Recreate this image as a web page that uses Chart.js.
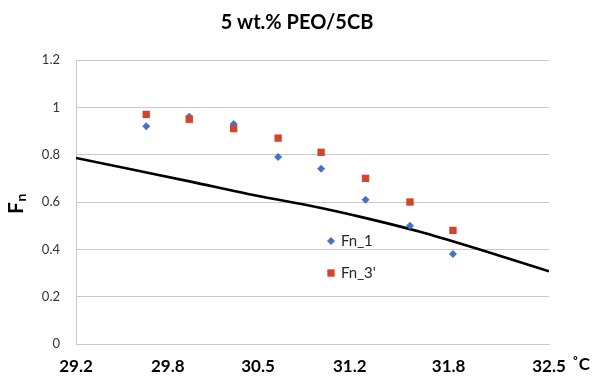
<!DOCTYPE html>
<html>
<head>
<meta charset="utf-8">
<script src="https://cdn.jsdelivr.net/npm/chart.js@4.4.1/dist/chart.umd.min.js"></script>
<style>
  html, body { margin: 0; padding: 0; background: #ffffff; }
  #wrap { width: 595px; height: 376px; position: relative; }
</style>
</head>
<body>
<div id="wrap"><canvas id="c" width="595" height="376"></canvas></div>
<script>
// ---- data ----
const chartTitle = '5 wt.% PEO/5CB';
const yAxisTitleMain = 'F';
const yAxisTitleSub = 'n';
const xUnitLabel = '˚C';

const xTickValues = [29.2, 29.84, 30.47, 31.11, 31.8, 32.5];
const xTickLabels = ['29.2', '29.8', '30.5', '31.2', '31.8', '32.5'];

const tempPoints = [29.69, 29.99, 30.30, 30.61, 30.91, 31.22, 31.53, 31.83];
const fn1Values  = [0.92, 0.96, 0.93, 0.79, 0.74, 0.61, 0.50, 0.38];
const fn3Values  = [0.97, 0.95, 0.91, 0.87, 0.81, 0.70, 0.60, 0.48];

const curveTemps  = [29.2, 29.6, 30.0, 30.4, 30.8, 31.2, 31.6, 32.0, 32.5];
const curveValues = [0.786, 0.736, 0.686, 0.634, 0.588, 0.535, 0.474, 0.402, 0.307];

const seriesNames = ['Fn_1', "Fn_3'"];

// ---- build chart ----
const FONT = 'Lato, "Liberation Sans", sans-serif';
const BLUE = '#4472C4';
const RED = '#D5432A';
const GRID = '#C9C9C9';

const toXY = (xs, ys) => xs.map((x, i) => ({ x: x, y: ys[i] }));

const overlayPlugin = {
  id: 'overlay',
  afterDraw(chart) {
    const ctx = chart.ctx;
    ctx.save();
    // title
    ctx.fillStyle = '#000000';
    ctx.font = 'bold 20px ' + FONT;
    ctx.textAlign = 'center';
    ctx.textBaseline = 'middle';
    ctx.fillText(chartTitle, 297, 23);

    // unit label next to x axis
    ctx.font = 'bold 17px ' + FONT;
    ctx.textAlign = 'left';
    ctx.textBaseline = 'top';
    ctx.fillText(xUnitLabel, 572, 356);

    // rotated y axis title with subscript
    ctx.translate(23, 214);
    ctx.rotate(-Math.PI / 2);
    ctx.textAlign = 'left';
    ctx.textBaseline = 'alphabetic';
    ctx.font = 'bold 21px ' + FONT;
    ctx.fillText(yAxisTitleMain, 0, 0);
    const wF = ctx.measureText(yAxisTitleMain).width;
    ctx.font = 'bold 14px ' + FONT;
    ctx.fillText(yAxisTitleSub, wF + 0.5, 3);
    ctx.restore();

    // legend inside the plot
    ctx.save();
    const items = [
      { ds: chart.data.datasets[0], x: 331, y: 241 },
      { ds: chart.data.datasets[1], x: 331, y: 273 }
    ];
    items.forEach(it => {
      ctx.fillStyle = it.ds.backgroundColor;
      ctx.strokeStyle = it.ds.backgroundColor;
      Chart.helpers.drawPoint(ctx, {
        pointStyle: it.ds.pointStyle,
        radius: it.ds.pointRadius,
        rotation: 0,
        borderWidth: 0
      }, it.x, it.y);
      ctx.fillStyle = '#262626';
      ctx.font = '15px ' + FONT;
      ctx.textAlign = 'left';
      ctx.textBaseline = 'middle';
      ctx.fillText(it.ds.label, it.x + 10, it.y);
    });
    ctx.restore();
  }
};

new Chart(document.getElementById('c'), {
  type: 'scatter',
  data: {
    datasets: [
      {
        label: seriesNames[0],
        data: toXY(tempPoints, fn1Values),
        pointStyle: 'rectRot',
        pointRadius: 4,
        backgroundColor: BLUE,
        borderColor: BLUE,
        borderWidth: 0,
        showLine: false,
        order: 1
      },
      {
        label: seriesNames[1],
        data: toXY(tempPoints, fn3Values),
        pointStyle: 'rect',
        pointRadius: 5.2,
        backgroundColor: RED,
        borderColor: RED,
        borderWidth: 0,
        showLine: false,
        order: 0
      },
      {
        label: 'model',
        type: 'line',
        data: toXY(curveTemps, curveValues),
        borderColor: '#000000',
        borderWidth: 2.6,
        pointRadius: 0,
        fill: false,
        cubicInterpolationMode: 'monotone',
        order: 2
      }
    ]
  },
  options: {
    responsive: false,
    animation: false,
    devicePixelRatio: 1,
    layout: { padding: { top: 60, right: 46, left: 0, bottom: 0 } },
    plugins: {
      legend: { display: false },
      title: { display: false },
      tooltip: { enabled: false }
    },
    scales: {
      x: {
        type: 'linear',
        min: 29.2,
        max: 32.5,
        afterFit: s => { s.height = 32; },
        afterBuildTicks: s => { s.ticks = xTickValues.map(v => ({ value: v })); },
        grid: { display: false, drawTicks: false },
        border: { display: true, color: GRID, width: 1 },
        ticks: {
          padding: 12,
          color: '#000000',
          font: { family: FONT, size: 17, weight: 'bold' },
          autoSkip: false,
          maxRotation: 0,
          callback: (v, i) => xTickLabels[i]
        }
      },
      y: {
        min: 0,
        max: 1.2,
        afterFit: s => { s.width = 76; },
        grid: { color: GRID, lineWidth: 1, drawTicks: false },
        border: { display: true, color: GRID, width: 1 },
        ticks: {
          stepSize: 0.2,
          padding: 16,
          color: '#333333',
          font: { family: FONT, size: 13 },
          callback: v => String(Math.round(v * 10) / 10)
        }
      }
    }
  },
  plugins: [overlayPlugin]
});
</script>
</body>
</html>
